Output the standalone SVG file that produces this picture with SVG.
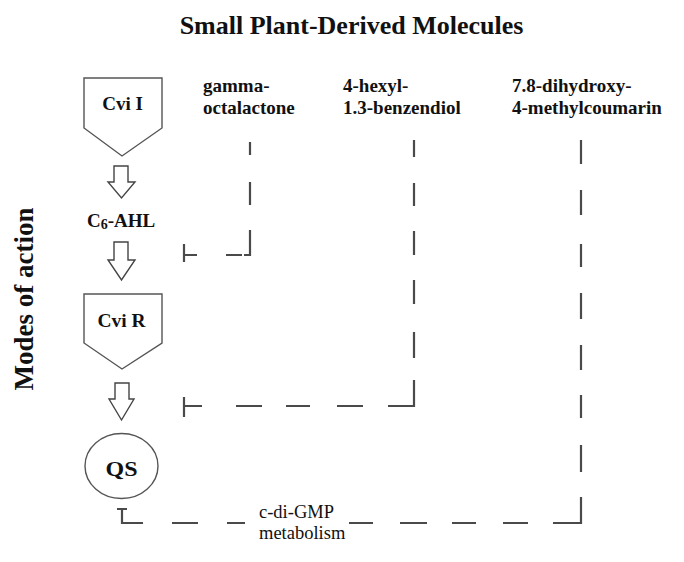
<svg xmlns="http://www.w3.org/2000/svg" width="684" height="562" viewBox="0 0 684 562">
<style>
.b{font-family:"Liberation Serif","Times New Roman",serif;font-weight:bold;fill:#111}
.r{font-family:"Liberation Serif","Times New Roman",serif;fill:#111}
.node{fill:#fff;stroke:#555;stroke-width:1.4}
.arr{fill:#fff;stroke:#444;stroke-width:1.4;stroke-linejoin:miter}
.con{fill:none;stroke:#4a4a4a;stroke-width:2.2}
</style>
<rect width="684" height="562" fill="#fff"/>
<text class="b" x="351.5" y="34" font-size="26" text-anchor="middle">Small Plant-Derived Molecules</text>
<text class="b" font-size="27" text-anchor="middle" transform="translate(33,299) rotate(-90)">Modes of action</text>

<g id="cviI">
<path class="node" d="M84,78 H162 V128 L122,156 L84,128 Z"/>
<text class="b" x="122.5" y="110" font-size="19" text-anchor="middle">Cvi I</text>
</g>
<g id="arrow1"><path class="arr" d="M114,166 H128 V182 H135 L121.5,198 L108,182 H114 Z"/></g>
<g id="c6ahl">
<text class="b" x="87" y="227" font-size="19">C<tspan font-size="14" dy="2">6</tspan><tspan dy="-2">-AHL</tspan></text>
</g>
<g id="arrow2"><path class="arr" d="M114,242 H128 V260 H135 L121.5,280 L108,260 H114 Z"/></g>
<g id="cviR">
<path class="node" d="M84,294 H162 V343 L122,369 L84,343 Z"/>
<text class="b" x="121.5" y="327" font-size="19.5" text-anchor="middle">Cvi R</text>
</g>
<g id="arrow3"><path class="arr" d="M115,383 H129 V399 H134 L121.5,420 L109,399 H115 Z"/></g>
<g id="qs">
<ellipse class="node" cx="121.5" cy="466" rx="36.5" ry="32.5"/>
<text class="b" x="121.5" y="476" font-size="20" text-anchor="middle" textLength="32" lengthAdjust="spacingAndGlyphs">QS</text>
</g>

<g id="gamma">
<text class="b" x="203" y="92" font-size="19">gamma-</text>
<text class="b" x="203" y="114" font-size="19">octalactone</text>
</g>
<g id="hexyl">
<text class="b" x="343" y="92" font-size="19">4-hexyl-</text>
<text class="b" x="343" y="114" font-size="19">1.3-benzendiol</text>
</g>
<g id="coumarin">
<text class="b" x="512" y="92" font-size="19">7.8-dihydroxy-</text>
<text class="b" x="512" y="114" font-size="19">4-methylcoumarin</text>
</g>
<g id="cdigmp">
<text class="r" x="259" y="518" font-size="18.5">c-di-GMP</text>
<text class="r" x="259" y="539" font-size="18.5">metabolism</text>
</g>

<g id="connectors">
<path class="con" d="M250,142 V155 M250,182 V205 M250,230 V255 H244 M242,255 H226 M197,255 H184 M184,244 V262"/>
<path class="con" d="M414,140 V157 M414,183 V206 M414,231 V255 M414,280 V304 M414,332 V358 M414,380 V406 H388 M363,406 H337 M310,406 H286 M262,406 H236 M202,406 H184 M184,397 V417"/>
<path class="con" d="M581,140 V164 M581,190 V215 M581,244 V267 M581,293 V319 M581,345 V370 M581,395 V418 M581,445 V472 M581,497 V523 H553 M528,523 H503 M476,523 H452 M427,523 H400 M373,523 H349 M245,523 H227 M198,523 H172 M143,523 H122 V509 M117,509 H127"/>
</g>
</svg>
